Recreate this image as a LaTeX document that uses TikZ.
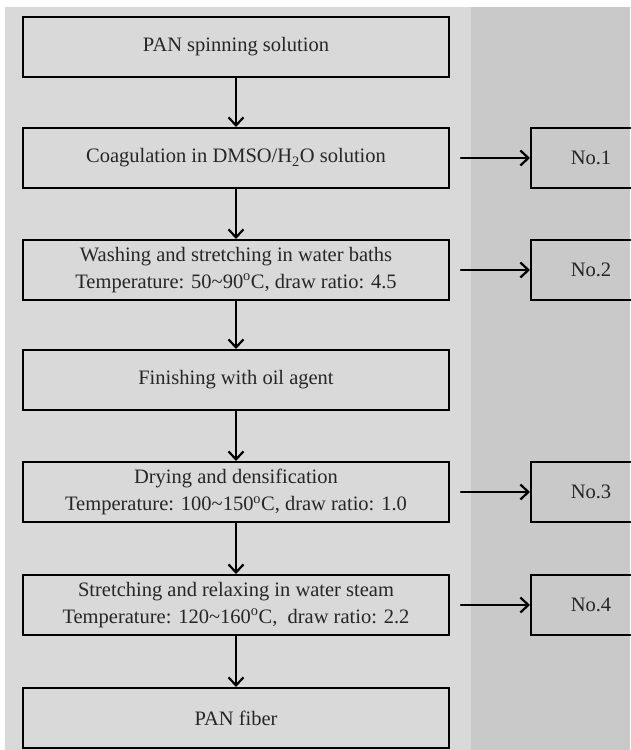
\documentclass[tikz,border=0pt]{standalone}
\usepackage{fontspec}
\setmainfont{Liberation Serif}
\usetikzlibrary{arrows.meta}
\usepackage{xcolor}
\definecolor{paneleft}{HTML}{D9D9D9}
\definecolor{paneright}{HTML}{C9C9C9}
\definecolor{inkgray}{HTML}{262626}
\tikzset{
  stage/.style={draw=black,line width=2pt,minimum width=426pt,minimum height=60pt,
    inner sep=0pt,align=center,text=inkgray,font=\fontsize{20.5}{27}\selectfont},
  sample/.style={stage,minimum width=120pt},
  flow/.style={->,line width=2.5pt}
}
\newcommand{\degc}{\textsuperscript{o}C}

\begin{document}
\begin{tikzpicture}[x=1pt,y=-1pt,>={Straight Barb[length=8pt,width=15pt,line width=2.2pt]},line cap=round]
\useasboundingbox (0,0) rectangle (630,750);
\fill[paneleft] (5,7) rectangle (471,750);
\fill[paneright] (471,7) rectangle (630,750);
% main line
\node[stage] (spin) at (236,47) {PAN spinning solution};
\node[stage] (coag) at (236,158) {Coagulation in DMSO/H\textsubscript{2}O solution};
\node[stage] (wash) at (236,270) {Washing and stretching in water baths\\Temperature: 50\textasciitilde90\degc, draw ratio: 4.5};
\node[stage] (oil) at (236,380) {Finishing with oil agent};
\node[stage] (dry) at (236,492) {Drying and densification\\Temperature: 100\textasciitilde150\degc, draw ratio: 1.0};
\node[stage] (steam) at (236,605) {Stretching and relaxing in water steam\\Temperature: 120\textasciitilde160\degc,\ \ draw ratio: 2.2};
\node[stage] (fiber) at (236,718) {PAN fiber};
% samples
\node[sample] (no1) at (591,158) {No.1};
\node[sample] (no2) at (591,270) {No.2};
\node[sample] (no3) at (591,492) {No.3};
\node[sample] (no4) at (591,605) {No.4};
\draw[flow] (spin.south) -- (coag.north);
\draw[flow] (coag.south) -- (wash.north);
\draw[flow] (wash.south) -- (oil.north);
\draw[flow] (oil.south) -- (dry.north);
\draw[flow] (dry.south) -- (steam.north);
\draw[flow] (steam.south) -- (fiber.north);
\draw[flow] ([xshift=11pt]coag.east) -- (no1.west);
\draw[flow] ([xshift=11pt]wash.east) -- (no2.west);
\draw[flow] ([xshift=11pt]dry.east) -- (no3.west);
\draw[flow] ([xshift=11pt]steam.east) -- (no4.west);
\end{tikzpicture}
\end{document}
